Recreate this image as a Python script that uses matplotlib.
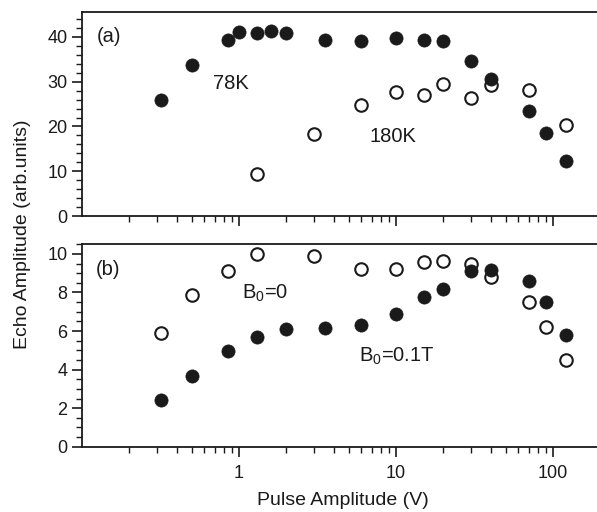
import numpy as np
import matplotlib
matplotlib.use("Agg")
import matplotlib.pyplot as plt
from matplotlib.ticker import LogLocator, MultipleLocator, NullFormatter, FixedLocator, FixedFormatter

plt.rcParams['font.family'] = ['Liberation Sans', 'DejaVu Sans']
plt.rcParams['mathtext.default'] = 'regular'

# panel (a): 78K (filled) and 180K (open)
v_78k = [0.32, 0.5, 0.85, 1.0, 1.3, 1.6, 2.0, 3.5, 6, 10, 15, 20, 30, 40, 70, 90, 120]
amp_78k = [26.0, 33.7, 39.3, 41.1, 40.8, 41.4, 40.8, 39.4, 39.1, 39.7, 39.4, 39.0, 34.6, 30.6, 23.4, 18.5, 12.3]
v_180k = [1.3, 3.0, 6, 10, 15, 20, 30, 40, 70, 120]
amp_180k = [9.5, 18.3, 24.8, 27.8, 27.1, 29.5, 26.3, 29.2, 28.1, 20.3]

# panel (b): B0=0 (open) and B0=0.1T (filled)
v_b0 = [0.32, 0.5, 0.85, 1.3, 3.0, 6, 10, 15, 20, 30, 40, 70, 90, 120]
amp_b0 = [5.9, 7.87, 9.1, 10.0, 9.9, 9.24, 9.24, 9.57, 9.65, 9.48, 8.8, 7.52, 6.22, 4.48]
v_b01 = [0.32, 0.5, 0.85, 1.3, 2.0, 3.5, 6, 10, 15, 20, 30, 40, 70, 90, 120]
amp_b01 = [2.42, 3.65, 4.95, 5.71, 6.08, 6.17, 6.3, 6.86, 7.76, 8.18, 9.13, 9.17, 8.6, 7.52, 5.77]

xticks = [1, 10, 100]
xtick_labels = ["1", "10", "100"]

ink = '#1a1a1a'
fig = plt.figure(figsize=(5.97, 5.12), dpi=100)
ax_a = fig.add_axes([0.1374, 0.578, 0.8626, 0.398])
ax_b = fig.add_axes([0.1374, 0.1275, 0.8626, 0.3955])


def style(ax, ymax, major, minor, show_labels):
    ax.set_xscale('log')
    ax.set_xlim(0.1, 190)
    ax.set_ylim(0, ymax)
    ax.xaxis.set_major_locator(FixedLocator(xticks))
    if show_labels:
        ax.xaxis.set_major_formatter(FixedFormatter(xtick_labels))
    else:
        ax.xaxis.set_major_formatter(NullFormatter())
    ax.xaxis.set_minor_locator(LogLocator(base=10, subs=np.arange(2, 10)))
    ax.xaxis.set_minor_formatter(NullFormatter())
    ax.yaxis.set_major_locator(MultipleLocator(major))
    ax.yaxis.set_minor_locator(MultipleLocator(minor))
    ax.spines['right'].set_visible(False)
    for s in ['left', 'top', 'bottom']:
        ax.spines[s].set_linewidth(1.3)
        ax.spines[s].set_color(ink)
    ax.tick_params(which='major', direction='out', length=7, width=1.2, color=ink,
                   labelsize=13, labelcolor=ink)
    ax.tick_params(axis='x', which='major', pad=6)
    ax.tick_params(which='minor', direction='out', length=4, width=1.0, color=ink)
    ax.tick_params(top=False, right=False)


style(ax_a, 45.5, 10, 2, False)
style(ax_b, 10.5, 2, 0.5, True)

# open symbols first, filled drawn on top
ax_a.plot(v_180k, amp_180k, 'o', ms=9, mfc='white', mec=ink, mew=1.5, clip_on=False)
ax_a.plot(v_78k, amp_78k, 'o', ms=9.5, mfc=ink, mec=ink, mew=0.5, clip_on=False)
ax_b.plot(v_b0, amp_b0, 'o', ms=9, mfc='white', mec=ink, mew=1.5, clip_on=False)
ax_b.plot(v_b01, amp_b01, 'o', ms=9.5, mfc=ink, mec=ink, mew=0.5, clip_on=False)

ax_a.text(0.029, 0.88, "(a)", transform=ax_a.transAxes, fontsize=14.5, va='center', color=ink)
ax_a.text(0.254, 0.651, "78K", transform=ax_a.transAxes, fontsize=14.5, va='center', color=ink)
ax_a.text(0.559, 0.389, "180K", transform=ax_a.transAxes, fontsize=14.5, va='center', color=ink)
ax_b.text(0.027, 0.873, "(b)", transform=ax_b.transAxes, fontsize=14.5, va='center', color=ink)
ax_b.text(0.311, 0.758, "B$_0$=0", transform=ax_b.transAxes, fontsize=14.5, va='center', color=ink)
ax_b.text(0.537, 0.445, "B$_0$=0.1T", transform=ax_b.transAxes, fontsize=14.5, va='center', color=ink)

fig.text(0.037, 0.543, "Echo Amplitude (arb.units)", rotation=90, ha='center', va='center',
         fontsize=14, color=ink)
fig.text(0.574, 0.023, "Pulse Amplitude (V)", ha='center', va='center', fontsize=14, color=ink)

fig.savefig("out.png", dpi=100)
